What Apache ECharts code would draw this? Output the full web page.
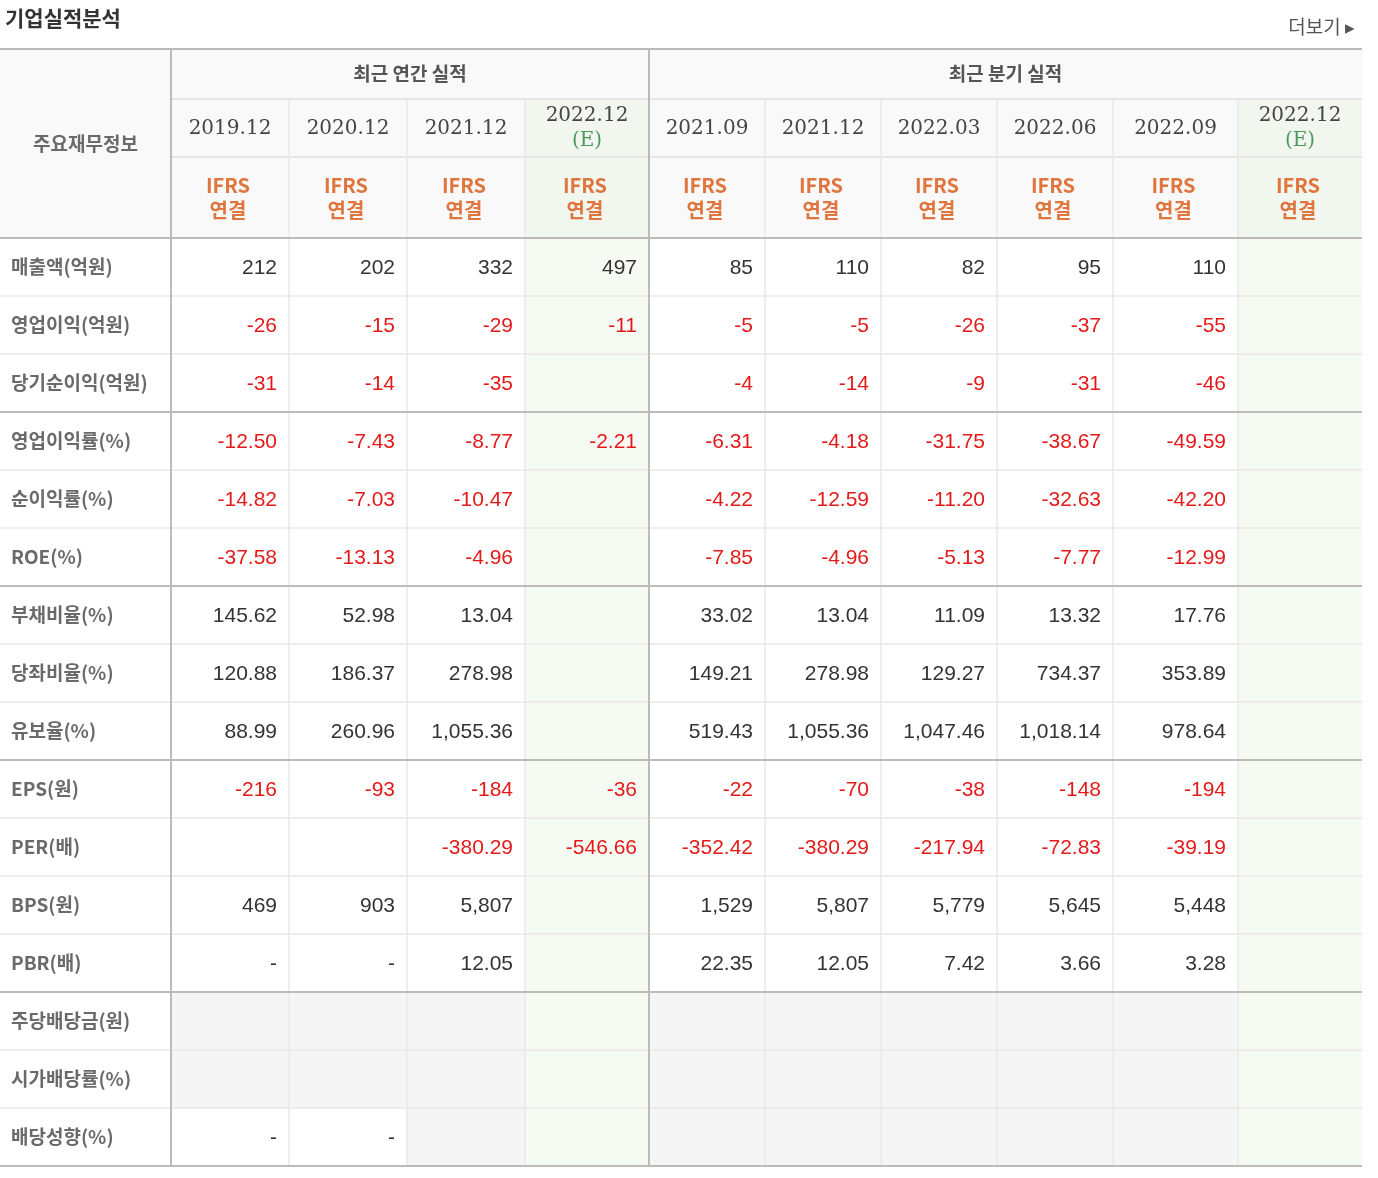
<!DOCTYPE html>
<html><head><meta charset="utf-8">
<script src="https://cdn.jsdelivr.net/npm/echarts@6/dist/echarts.min.js"></script>
<style>html,body{margin:0;padding:0;background:#fff}#main{width:1378px;height:1178px}</style>
</head><body><div id="main"></div>
<script>
// table content
var groups = ['최근 연간 실적', '최근 분기 실적'];
var periods = ['2019.12','2020.12','2021.12','2022.12','2021.09','2021.12','2022.03','2022.06','2022.09','2022.12'];
var estimate = [false,false,false,true,false,false,false,false,false,true];
var rowLabels = ['매출액(억원)','영업이익(억원)','당기순이익(억원)','영업이익률(%)','순이익률(%)','ROE(%)',
  '부채비율(%)','당좌비율(%)','유보율(%)','EPS(원)','PER(배)','BPS(원)','PBR(배)','주당배당금(원)','시가배당률(%)','배당성향(%)'];
var values = [
  ['212','202','332','497','85','110','82','95','110',''],
  ['-26','-15','-29','-11','-5','-5','-26','-37','-55',''],
  ['-31','-14','-35','','-4','-14','-9','-31','-46',''],
  ['-12.50','-7.43','-8.77','-2.21','-6.31','-4.18','-31.75','-38.67','-49.59',''],
  ['-14.82','-7.03','-10.47','','-4.22','-12.59','-11.20','-32.63','-42.20',''],
  ['-37.58','-13.13','-4.96','','-7.85','-4.96','-5.13','-7.77','-12.99',''],
  ['145.62','52.98','13.04','','33.02','13.04','11.09','13.32','17.76',''],
  ['120.88','186.37','278.98','','149.21','278.98','129.27','734.37','353.89',''],
  ['88.99','260.96','1,055.36','','519.43','1,055.36','1,047.46','1,018.14','978.64',''],
  ['-216','-93','-184','-36','-22','-70','-38','-148','-194',''],
  ['','','-380.29','-546.66','-352.42','-380.29','-217.94','-72.83','-39.19',''],
  ['469','903','5,807','','1,529','5,807','5,779','5,645','5,448',''],
  ['-','-','12.05','','22.35','12.05','7.42','3.66','3.28',''],
  ['','','','','','','','','',''],
  ['','','','','','','','','',''],
  ['-','-','','','','','','','','']
];
// no data cells (grey) : dividend rows
var noDataRows = [13, 14, 15];

// layout
var colEdges = [0,171,289,407,525,649,765,881,997,1113,1238,1362];
var headTop = 49, headMid = 99, headMid2 = 157, bodyTop = 238, rowH = 58;
var thickRows = [0, 3, 6, 9, 13, 16];
var thickCols = [1, 5];
var labelFont = 'bold 19px "Noto Sans CJK KR"';
var dateFont = '20px "DejaVu Serif", serif';

var chart = echarts.init(document.getElementById('main'));

var cellData = [];
for (var r = 0; r < rowLabels.length; r++) {
  cellData.push([0, r, rowLabels[r]]);
  for (var c = 0; c < periods.length; c++) cellData.push([c + 1, r, values[r][c]]);
}
var headData = [];
for (var c = 0; c < periods.length; c++) headData.push([c + 1, periods[c]]);

function P(x, y, api) { return api.coord([x, y]); }

function renderCell(params, api) {
  var c = api.value(0), r = api.value(1), txt = cellData[params.dataIndex][2];
  var p0 = P(colEdges[c], bodyTop + r * rowH, api), p1 = P(colEdges[c + 1], bodyTop + (r + 1) * rowH, api);
  var fill = '#fff';
  if (c > 0) {
    if (estimate[c - 1]) fill = '#f5faf3';
    else if (noDataRows.indexOf(r) >= 0 && !(r === 15 && c <= 2)) fill = '#f5f5f5';
  }
  var children = [{ type: 'rect', shape: { x: p0[0], y: p0[1], width: p1[0] - p0[0], height: p1[1] - p0[1] }, style: { fill: fill } }];
  if (c === 0) {
    children.push({ type: 'text', style: { text: txt, x: p0[0] + 11, y: (p0[1] + p1[1]) / 2, verticalAlign: 'middle',
      font: labelFont, fill: '#6a6a6a' } });
  } else if (txt) {
    var neg = /^-\d/.test(txt);
    children.push({ type: 'text', style: { text: txt, x: p1[0] - 12, y: (p0[1] + p1[1]) / 2 + 1, align: 'right', verticalAlign: 'middle',
      font: '21px "Liberation Sans", Arial', fill: neg ? '#e41a1a' : '#333' } });
  }
  return { type: 'group', children: children };
}

function renderHead(params, api) {
  var c = api.value(0), est = estimate[c - 1];
  var a = P(colEdges[c], headMid, api), b = P(colEdges[c + 1], bodyTop, api), m = P(0, headMid2, api);
  var cx = (a[0] + b[0]) / 2;
  var bg = est ? '#f1f6ef' : '#f9f9f9';
  var ch = [{ type: 'rect', shape: { x: a[0], y: a[1], width: b[0] - a[0], height: b[1] - a[1] }, style: { fill: bg } }];
  if (est) {
    ch.push({ type: 'text', style: { text: periods[c - 1], x: cx, y: a[1] + 17, align: 'center', verticalAlign: 'middle', font: dateFont, fill: '#444' } });
    ch.push({ type: 'text', style: { text: '(E)', x: cx, y: a[1] + 42, align: 'center', verticalAlign: 'middle', font: dateFont, fill: '#4a9a5e' } });
  } else {
    ch.push({ type: 'text', style: { text: periods[c - 1], x: cx, y: (a[1] + m[1]) / 2 + 1, align: 'center', verticalAlign: 'middle', font: dateFont, fill: '#444' } });
  }
  ch.push({ type: 'text', style: { text: 'IFRS\n연결', x: cx - 2, y: (m[1] + b[1]) / 2, align: 'center', verticalAlign: 'middle', lineHeight: 25,
    font: 'bold 20px "Noto Sans CJK KR"', fill: '#e0753e' } });
  return { type: 'group', children: ch };
}

function renderFrame(params, api) {
  var ch = [];
  var top = P(0, headTop, api);
  var L = P(colEdges[0], 0, api)[0], R = P(colEdges[colEdges.length - 1], 0, api)[0];
  var c1 = P(colEdges[1], 0, api)[0], c5 = P(colEdges[5], 0, api)[0];
  ch.push({ type: 'rect', shape: { x: L, y: top[1], width: R - L, height: P(0, headMid, api)[1] - top[1] }, style: { fill: '#f9f9f9' } });
  ch.push({ type: 'rect', shape: { x: L, y: top[1], width: c1 - L, height: P(0, bodyTop, api)[1] - top[1] }, style: { fill: '#f9f9f9' } });
  ch.push({ type: 'text', style: { text: '주요재무정보', x: (L + c1) / 2, y: (top[1] + P(0, bodyTop, api)[1]) / 2, align: 'center', verticalAlign: 'middle', font: labelFont, fill: '#6a6a6a' } });
  ch.push({ type: 'text', style: { text: groups[0], x: (c1 + c5) / 2, y: (top[1] + P(0, headMid, api)[1]) / 2, align: 'center', verticalAlign: 'middle', font: labelFont, fill: '#555' } });
  ch.push({ type: 'text', style: { text: groups[1], x: (c5 + R) / 2, y: (top[1] + P(0, headMid, api)[1]) / 2, align: 'center', verticalAlign: 'middle', font: labelFont, fill: '#555' } });
  return { type: 'group', children: ch };
}

function renderLines(params, api) {
  var ch = [];
  var L = P(colEdges[0], 0, api)[0], R = P(colEdges[colEdges.length - 1], 0, api)[0];
  var c1 = P(colEdges[1], 0, api)[0];
  var top = P(0, headTop, api)[1], hb = P(0, bodyTop, api)[1], bot = P(0, bodyTop + rowLabels.length * rowH, api)[1];
  for (var r = 1; r < rowLabels.length; r++) {
    if (thickRows.indexOf(r) >= 0) continue;
    var y = P(0, bodyTop + r * rowH, api)[1];
    ch.push({ type: 'line', shape: { x1: L, y1: y, x2: R, y2: y }, style: { stroke: '#e8e8e8', lineWidth: 1.5 } });
  }
  [headMid, headMid2].forEach(function (hy) {
    var y = P(0, hy, api)[1];
    ch.push({ type: 'line', shape: { x1: c1, y1: y, x2: R, y2: y }, style: { stroke: '#e6e6e6', lineWidth: 2 } });
  });
  for (var c = 2; c < colEdges.length - 1; c++) {
    if (thickCols.indexOf(c) >= 0) continue;
    var x = P(colEdges[c], 0, api)[0];
    ch.push({ type: 'line', shape: { x1: x, y1: P(0, headMid, api)[1], x2: x, y2: bot }, style: { stroke: '#e8e8e8', lineWidth: 1.5 } });
  }
  [top, hb].forEach(function (y) { ch.push({ type: 'line', shape: { x1: L, y1: y, x2: R, y2: y }, style: { stroke: '#bbb', lineWidth: 2 } }); });
  thickRows.forEach(function (r) {
    if (r === 0) return;
    var y = P(0, bodyTop + r * rowH, api)[1];
    ch.push({ type: 'line', shape: { x1: L, y1: y, x2: R, y2: y }, style: { stroke: '#bbb', lineWidth: 2 } });
  });
  thickCols.forEach(function (c) {
    var x = P(colEdges[c], 0, api)[0];
    ch.push({ type: 'line', shape: { x1: x, y1: top, x2: x, y2: bot }, style: { stroke: '#bbb', lineWidth: 2 } });
  });
  return { type: 'group', children: ch };
}

var option = {
  animation: false,
  title: [
    { text: '기업실적분석', left: 0, top: 3, textStyle: { fontFamily: 'Noto Sans CJK KR', fontSize: 21, fontWeight: 'bold', color: '#333' } },
    { text: '더보기 ▸', right: 18, top: 12, textStyle: { fontFamily: 'Noto Sans CJK KR', fontSize: 19, fontWeight: 'normal', color: '#555' } }
  ],
  grid: { left: 0, top: 0, right: 0, bottom: 0 },
  xAxis: { type: 'value', min: 0, max: 1378, show: false },
  yAxis: { type: 'value', min: 0, max: 1178, inverse: true, show: false },
  series: [
    { type: 'custom', renderItem: renderFrame, data: [[0, 0]], silent: true, z: 1 },
    { type: 'custom', renderItem: renderHead, data: headData, silent: true, z: 2 },
    { type: 'custom', renderItem: renderCell, data: cellData.map(function (d) { return [d[0], d[1]]; }), silent: true, z: 2 },
    { type: 'custom', renderItem: renderLines, data: [[0, 0]], silent: true, z: 3 }
  ]
};
chart.setOption(option);
</script></body></html>
